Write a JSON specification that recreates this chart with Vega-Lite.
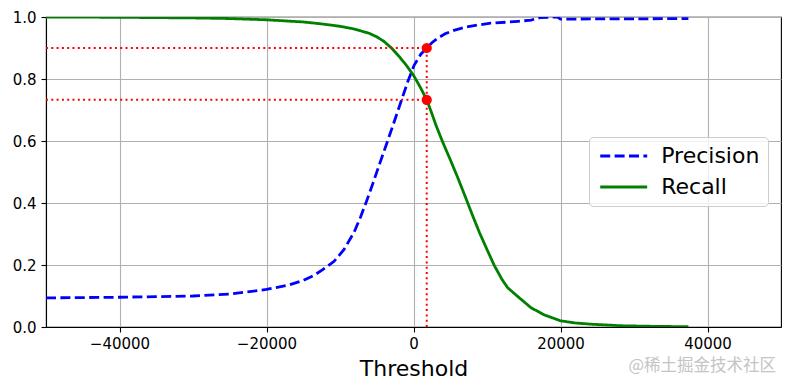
{
  "$schema": "https://vega.github.io/schema/vega-lite/v6.json",
  "autosize": "none",
  "width": 735,
  "height": 310,
  "padding": {"left": 46, "top": 17, "right": 9, "bottom": 63},
  "background": "white",
  "config": {
    "view": {"stroke": "black", "strokeWidth": 1.1},
    "font": "DejaVu Sans",
    "axis": {
      "grid": true,
      "gridColor": "#b0b0b0",
      "gridWidth": 1.1,
      "domainColor": "black",
      "domainWidth": 1.1,
      "tickColor": "black",
      "tickWidth": 1.1,
      "tickSize": 5,
      "labelFont": "DejaVu Sans",
      "labelFontSize": 15,
      "labelColor": "black",
      "labelPadding": 4,
      "titleFont": "DejaVu Sans",
      "titleFontWeight": "normal",
      "titleColor": "black"
    }
  },
  "title": {
    "text": "@稀土掘金技术社区",
    "orient": "bottom",
    "anchor": "end",
    "font": "Noto Sans CJK SC",
    "fontSize": 16.5,
    "fontWeight": "normal",
    "color": "#c4c4c4",
    "offset": -21,
    "dx": -5
  },
  "layer": [
    {
      "data": {
        "values": [
          {"threshold": -50000, "value": 0.094, "series": "Precision"},
          {"threshold": -45000, "value": 0.095, "series": "Precision"},
          {"threshold": -40000, "value": 0.096, "series": "Precision"},
          {"threshold": -35000, "value": 0.098, "series": "Precision"},
          {"threshold": -30000, "value": 0.100, "series": "Precision"},
          {"threshold": -25000, "value": 0.106, "series": "Precision"},
          {"threshold": -20000, "value": 0.121, "series": "Precision"},
          {"threshold": -17000, "value": 0.135, "series": "Precision"},
          {"threshold": -15000, "value": 0.150, "series": "Precision"},
          {"threshold": -13500, "value": 0.167, "series": "Precision"},
          {"threshold": -12400, "value": 0.184, "series": "Precision"},
          {"threshold": -10800, "value": 0.212, "series": "Precision"},
          {"threshold": -9450, "value": 0.250, "series": "Precision"},
          {"threshold": -8100, "value": 0.305, "series": "Precision"},
          {"threshold": -7200, "value": 0.355, "series": "Precision"},
          {"threshold": -6400, "value": 0.405, "series": "Precision"},
          {"threshold": -5500, "value": 0.465, "series": "Precision"},
          {"threshold": -4600, "value": 0.527, "series": "Precision"},
          {"threshold": -3700, "value": 0.588, "series": "Precision"},
          {"threshold": -2800, "value": 0.650, "series": "Precision"},
          {"threshold": -1730, "value": 0.725, "series": "Precision"},
          {"threshold": -800, "value": 0.790, "series": "Precision"},
          {"threshold": 100, "value": 0.845, "series": "Precision"},
          {"threshold": 1000, "value": 0.880, "series": "Precision"},
          {"threshold": 1800, "value": 0.900, "series": "Precision"},
          {"threshold": 2500, "value": 0.917, "series": "Precision"},
          {"threshold": 3270, "value": 0.931, "series": "Precision"},
          {"threshold": 4300, "value": 0.946, "series": "Precision"},
          {"threshold": 5500, "value": 0.957, "series": "Precision"},
          {"threshold": 7000, "value": 0.967, "series": "Precision"},
          {"threshold": 8700, "value": 0.974, "series": "Precision"},
          {"threshold": 10500, "value": 0.980, "series": "Precision"},
          {"threshold": 12500, "value": 0.983, "series": "Precision"},
          {"threshold": 14200, "value": 0.986, "series": "Precision"},
          {"threshold": 16000, "value": 0.990, "series": "Precision"},
          {"threshold": 17200, "value": 0.998, "series": "Precision"},
          {"threshold": 19600, "value": 1.0, "series": "Precision"},
          {"threshold": 20000, "value": 0.993, "series": "Precision"},
          {"threshold": 25000, "value": 0.994, "series": "Precision"},
          {"threshold": 30000, "value": 0.994, "series": "Precision"},
          {"threshold": 37400, "value": 0.995, "series": "Precision"},
          {"threshold": -50000, "value": 1.0, "series": "Recall"},
          {"threshold": -40000, "value": 0.999, "series": "Recall"},
          {"threshold": -30000, "value": 0.997, "series": "Recall"},
          {"threshold": -25000, "value": 0.995, "series": "Recall"},
          {"threshold": -20000, "value": 0.991, "series": "Recall"},
          {"threshold": -15000, "value": 0.984, "series": "Recall"},
          {"threshold": -12600, "value": 0.978, "series": "Recall"},
          {"threshold": -10000, "value": 0.970, "series": "Recall"},
          {"threshold": -8000, "value": 0.961, "series": "Recall"},
          {"threshold": -6000, "value": 0.947, "series": "Recall"},
          {"threshold": -5000, "value": 0.936, "series": "Recall"},
          {"threshold": -4000, "value": 0.921, "series": "Recall"},
          {"threshold": -3000, "value": 0.900, "series": "Recall"},
          {"threshold": -2000, "value": 0.874, "series": "Recall"},
          {"threshold": -1000, "value": 0.845, "series": "Recall"},
          {"threshold": 0, "value": 0.812, "series": "Recall"},
          {"threshold": 1000, "value": 0.770, "series": "Recall"},
          {"threshold": 1800, "value": 0.733, "series": "Recall"},
          {"threshold": 2400, "value": 0.695, "series": "Recall"},
          {"threshold": 3040, "value": 0.652, "series": "Recall"},
          {"threshold": 4000, "value": 0.595, "series": "Recall"},
          {"threshold": 5000, "value": 0.540, "series": "Recall"},
          {"threshold": 6000, "value": 0.483, "series": "Recall"},
          {"threshold": 7000, "value": 0.423, "series": "Recall"},
          {"threshold": 8000, "value": 0.362, "series": "Recall"},
          {"threshold": 9000, "value": 0.303, "series": "Recall"},
          {"threshold": 10000, "value": 0.250, "series": "Recall"},
          {"threshold": 11000, "value": 0.198, "series": "Recall"},
          {"threshold": 12000, "value": 0.155, "series": "Recall"},
          {"threshold": 12800, "value": 0.127, "series": "Recall"},
          {"threshold": 14200, "value": 0.098, "series": "Recall"},
          {"threshold": 16000, "value": 0.062, "series": "Recall"},
          {"threshold": 17800, "value": 0.039, "series": "Recall"},
          {"threshold": 20000, "value": 0.020, "series": "Recall"},
          {"threshold": 22000, "value": 0.013, "series": "Recall"},
          {"threshold": 24200, "value": 0.009, "series": "Recall"},
          {"threshold": 28300, "value": 0.004, "series": "Recall"},
          {"threshold": 33000, "value": 0.002, "series": "Recall"},
          {"threshold": 37400, "value": 0.001, "series": "Recall"}
        ]
      },
      "mark": {"type": "line", "strokeWidth": 2.8, "clip": true},
      "encoding": {
        "x": {
          "field": "threshold", "type": "quantitative",
          "scale": {"domain": [-50000, 50000], "nice": false, "zero": false},
          "axis": {"values": [-40000, -20000, 0, 20000, 40000], "format": "d", "title": "Threshold", "titleFontSize": 22, "titlePadding": 7}
        },
        "y": {
          "field": "value", "type": "quantitative",
          "scale": {"domain": [0, 1], "nice": false},
          "axis": {"values": [0, 0.2, 0.4, 0.6, 0.8, 1.0], "format": ".1f", "title": null, "labelPadding": 5}
        },
        "color": {
          "field": "series", "type": "nominal",
          "scale": {"domain": ["Precision", "Recall"], "range": ["#0000ff", "#008000"]},
          "legend": {
            "title": null,
            "orient": "none",
            "legendX": 543,
            "legendY": 120,
            "symbolType": "M-3,0H3",
            "symbolSize": 245,
            "symbolOffset": 15.7,
            "symbolStrokeWidth": 2.8,
            "labelOffset": 26.5,
            "labelFont": "DejaVu Sans",
            "labelFontSize": 22,
            "labelColor": "black",
            "rowPadding": 9,
            "padding": 8,
            "fillColor": "rgba(255,255,255,0.8)",
            "strokeColor": "#cccccc",
            "cornerRadius": 4
          }
        },
        "strokeDash": {
          "field": "series", "type": "nominal",
          "scale": {"domain": ["Precision", "Recall"], "range": [[10, 4.4], [1, 0]]},
          "legend": null
        },
        "order": {"field": "threshold", "type": "quantitative"}
      }
    },
    {
      "data": {
        "values": [
          {"x": -50000, "x2": 1800, "y": 0.9, "y2": 0.9},
          {"x": -50000, "x2": 1800, "y": 0.733, "y2": 0.733},
          {"x": 1800, "x2": 1800, "y": 0, "y2": 0.9}
        ]
      },
      "mark": {"type": "rule", "color": "#ff0000", "strokeWidth": 2, "strokeDash": [2, 3.3]},
      "encoding": {
        "x": {"field": "x", "type": "quantitative"},
        "x2": {"field": "x2"},
        "y": {"field": "y", "type": "quantitative"},
        "y2": {"field": "y2"}
      }
    },
    {
      "data": {
        "values": [
          {"x": 1800, "y": 0.9},
          {"x": 1800, "y": 0.733}
        ]
      },
      "mark": {"type": "circle", "color": "#ff0000", "opacity": 1, "size": 105},
      "encoding": {
        "x": {"field": "x", "type": "quantitative"},
        "y": {"field": "y", "type": "quantitative"}
      }
    }
  ]
}
